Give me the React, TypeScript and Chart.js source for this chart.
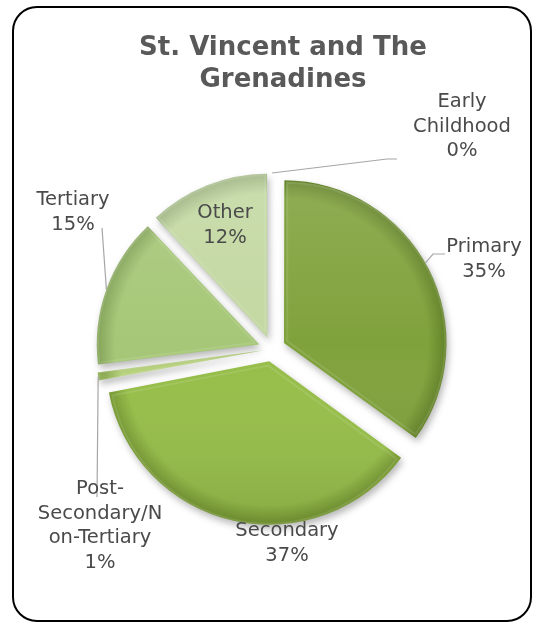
import React, { useEffect, useRef } from 'react';
import { Chart, registerables } from 'chart.js';

Chart.register(...registerables);

// ---- data ----
const titleLines = ['St. Vincent and The', 'Grenadines'];
const categories = ['Primary', 'Secondary', 'Post-Secondary/Non-Tertiary', 'Tertiary', 'Other', 'Early Childhood'];
const values = [35, 37, 1, 15, 12, 0];
const labelLines = [
  ['Primary', '35%'],
  ['Secondary', '37%'],
  ['Post-', 'Secondary/N', 'on-Tertiary', '1%'],
  ['Tertiary', '15%'],
  ['Other', '12%'],
  ['Early', 'Childhood', '0%'],
];
const baseColors = ['#80a23c', '#97be4a', '#b8d37e', '#a6c777', '#c3d8a2', '#d6e5bd'];
const rimColors = ['#66862b', '#7b9e36', '#8fae55', '#88a85d', '#a3b986', '#b7c9a0'];

// ---- layout (label placement, not data) ----
const EXPLODE = 16;
const labelLayout: { cx: number; cy: number; leader: null | { frac: number; pts: number[][] } }[] = [
  { cx: 484, cy: 247, leader: { frac: 0.48, pts: [[433, 254], [445, 254]] } },
  { cx: 287, cy: 531, leader: null },
  { cx: 100, cy: 489, leader: { frac: 0.5, pts: [[97, 497]] } },
  { cx: 73, cy: 200, leader: { frac: 0.5, pts: [[102, 228]] } },
  { cx: 225, cy: 213, leader: null },
  { cx: 462, cy: 102, leader: { frac: 0, pts: [[387, 159], [397, 159]] } },
];

const total = values.reduce((a, b) => a + b, 0);
function fixFor(i: number) {
  const circ = (values[i] / total) * Math.PI * 2;
  return 1 - Math.sin(Math.min(Math.PI, circ));
}

function arcShift(arc: any) {
  const half = (arc.startAngle + arc.endAngle) / 2;
  return { dx: Math.cos(half) * EXPLODE, dy: Math.sin(half) * EXPLODE };
}

const shadowPlugin = {
  id: 'pieShadow',
  beforeDatasetsDraw(chart: any) {
    const ctx = chart.ctx;
    ctx.save();
    ctx.shadowColor = 'rgba(0,0,0,0.28)';
    ctx.shadowBlur = 7;
    ctx.shadowOffsetX = 2;
    ctx.shadowOffsetY = 4;
  },
  afterDatasetsDraw(chart: any) {
    const ctx = chart.ctx;
    ctx.restore();
    const meta = chart.getDatasetMeta(0);
    meta.data.forEach((arc: any, i: number) => {
      if (values[i] === 0) return;
      const { dx, dy } = arcShift(arc);
      const cx = arc.x + dx;
      const cy = arc.y + dy;
      const r = arc.outerRadius;
      ctx.save();
      ctx.beginPath();
      ctx.moveTo(cx, cy);
      ctx.arc(cx, cy, r, arc.startAngle, arc.endAngle);
      ctx.closePath();
      ctx.clip();
      const g = ctx.createLinearGradient(0, cy - r, 0, cy + r);
      g.addColorStop(0, 'rgba(255,255,255,0.12)');
      g.addColorStop(0.5, 'rgba(255,255,255,0)');
      g.addColorStop(1, 'rgba(0,0,0,0.10)');
      ctx.fillStyle = g;
      ctx.fillRect(cx - r - 2, cy - r - 2, 2 * r + 4, 2 * r + 4);
      ctx.lineWidth = 4;
      ctx.strokeStyle = 'rgba(255,255,255,0.10)';
      ctx.beginPath();
      ctx.moveTo(cx, cy);
      ctx.arc(cx, cy, r, arc.startAngle, arc.endAngle);
      ctx.closePath();
      ctx.stroke();
      ctx.restore();
    });
  },
};

const labelPlugin = {
  id: 'pieLabels',
  afterDraw(chart: any) {
    const ctx = chart.ctx;
    const meta = chart.getDatasetMeta(0);
    ctx.save();
    ctx.lineWidth = 2;
    ctx.strokeStyle = '#000000';
    ctx.beginPath();
    (ctx as any).roundRect(13, 7, 518, 614, 24);
    ctx.stroke();
    ctx.restore();

    ctx.save();
    ctx.fillStyle = '#595959';
    ctx.font = 'bold 26px "DejaVu Sans", Verdana, sans-serif';
    ctx.textAlign = 'center';
    ctx.textBaseline = 'alphabetic';
    titleLines.forEach((t, k) => ctx.fillText(t, 283, 55 + k * 32));
    ctx.restore();

    ctx.save();
    ctx.strokeStyle = '#a6a6a6';
    ctx.lineWidth = 1.2;
    meta.data.forEach((arc: any, i: number) => {
      const lay = labelLayout[i];
      if (!lay.leader) return;
      const { dx, dy } = arcShift(arc);
      const a = arc.startAngle + (arc.endAngle - arc.startAngle) * lay.leader.frac;
      const sx = arc.x + dx + Math.cos(a) * arc.outerRadius;
      const sy = arc.y + dy + Math.sin(a) * arc.outerRadius;
      ctx.beginPath();
      ctx.moveTo(sx, sy);
      lay.leader.pts.forEach((p) => ctx.lineTo(p[0], p[1]));
      ctx.stroke();
    });
    ctx.restore();

    ctx.save();
    ctx.fillStyle = '#4a4a4a';
    ctx.font = '19.5px "DejaVu Sans", Verdana, sans-serif';
    ctx.textAlign = 'center';
    ctx.textBaseline = 'middle';
    labelLines.forEach((lines, i) => {
      const lay = labelLayout[i];
      lines.forEach((ln, k) => ctx.fillText(ln, lay.cx, lay.cy + k * 24.5));
    });
    ctx.restore();
  },
};

export default function App() {
  const canvasRef = useRef<HTMLCanvasElement | null>(null);

  useEffect(() => {
    if (!canvasRef.current) return;
    const chart = new Chart(canvasRef.current, {
      type: 'pie',
      data: {
        labels: categories,
        datasets: [
          {
            data: values,
            borderWidth: 0,
            offset: (c: any) => (EXPLODE * 4) / (1 + fixFor(c.dataIndex)),
            backgroundColor: (c: any) => {
              const i = c.dataIndex;
              const chartArea = c.chart.chartArea;
              if (!chartArea) return baseColors[i];
              const cx = (chartArea.left + chartArea.right) / 2;
              const cy = (chartArea.top + chartArea.bottom) / 2;
              const g = c.chart.ctx.createRadialGradient(cx, cy, 0, cx, cy, 160);
              g.addColorStop(0, baseColors[i]);
              g.addColorStop(0.9, baseColors[i]);
              g.addColorStop(1, rimColors[i]);
              return g;
            },
          } as any,
        ],
      },
      options: {
        animation: false,
        responsive: true,
        maintainAspectRatio: false,
        radius: 160,
        layout: { padding: { left: 30, right: 19, top: 140, bottom: 64 } },
        plugins: {
          legend: { display: false },
          title: { display: false },
          tooltip: { enabled: false },
        },
      } as any,
      plugins: [shadowPlugin, labelPlugin],
    });
    return () => chart.destroy();
  }, []);

  return (
    <div style={{ position: 'absolute', left: 0, top: 0, width: 533, height: 622, background: '#ffffff' }}>
      <canvas ref={canvasRef} />
    </div>
  );
}
